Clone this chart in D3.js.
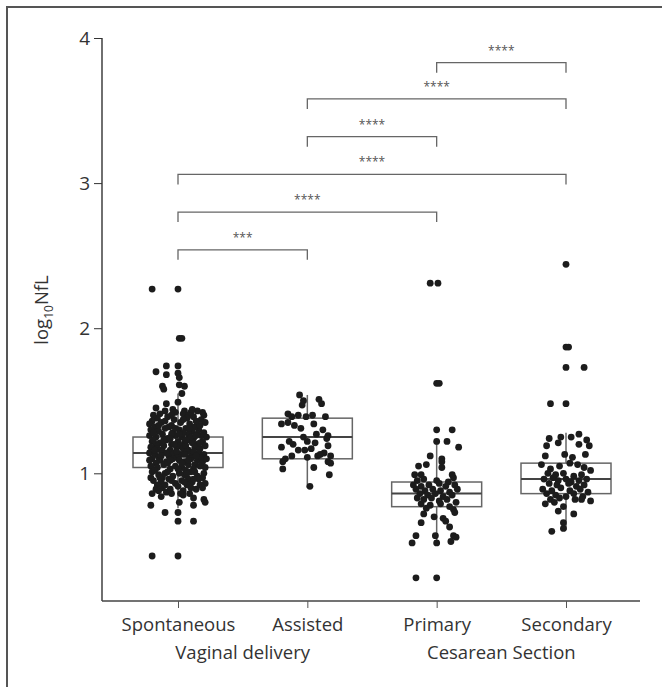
<!DOCTYPE html>
<html>
<head>
<meta charset="utf-8">
<script src="https://cdn.jsdelivr.net/npm/d3@7"></script>
<style>
  body { margin: 0; background: #fff; }
  text { font-family: "Open Sans", "Noto Sans", sans-serif; }
</style>
</head>
<body>
<div id="chart"></div>
<script>
// categories and groups
const categories = ["Spontaneous", "Assisted", "Primary", "Secondary"]
const groups = [
  { name: "Vaginal delivery", members: ["Spontaneous", "Assisted"] },
  { name: "Cesarean Section", members: ["Primary", "Secondary"] }
]
const yTicks = [1, 2, 3, 4]

// box stats: [whiskerLow, q1, median, q3, whiskerHigh]
const boxSpontaneous = [0.76, 1.04, 1.14, 1.25, 1.55]
const boxAssisted = [0.90, 1.10, 1.25, 1.38, 1.54]
const boxPrimary = [0.52, 0.77, 0.86, 0.94, 1.21]
const boxSecondary = [0.61, 0.86, 0.96, 1.07, 1.28]

// points: [jitter (share of category step), log10 NfL]
const ptsSpontaneous = [
  [-0.2,2.27],[0,2.27],[0.01,1.93],[0.03,1.93],[-0.09,1.74],[0,1.74],[-0.17,1.70],[-0.09,1.68],[0,1.69],[0.01,1.66],
  [-0.12,1.60],[-0.11,1.58],[0.01,1.61],[0.05,1.60],[0.03,1.55],[-0.09,1.48],[0,1.49],[-0.17,1.45],[-0.1,1.43],[-0.04,1.44],
  [0.05,1.43],[0.1,1.42],[0.15,1.43],[0.2,1.40],
  [-0.14,1.41],[-0.02,1.42],[0.04,1.41],[0.08,1.40],[0.19,1.42],
  [-0.16,1.38],[-0.08,1.39],[-0.03,1.37],[0.07,1.38],[0.12,1.39],[0.18,1.37],[-0.2,1.36],
  [-0.22,1.34],[-0.13,1.35],[-0.05,1.33],[0.02,1.35],[0.09,1.34],[0.15,1.33],[0.21,1.35],[-0.18,1.32],
  [-0.21,1.30],[-0.15,1.29],[-0.1,1.31],[-0.04,1.28],[0.01,1.30],[0.06,1.31],[0.11,1.29],[0.16,1.30],[0.2,1.28],[-0.07,1.32],[0.13,1.32],
  [-0.22,1.26],[-0.17,1.25],[-0.12,1.27],[-0.08,1.24],[-0.02,1.26],[0.03,1.25],[0.08,1.27],[0.12,1.24],[0.18,1.26],[0.22,1.25],[-0.05,1.27],[0.15,1.27],
  [-0.2,1.22],[-0.14,1.21],[-0.09,1.23],[-0.05,1.20],[0,1.22],[0.05,1.21],[0.09,1.23],[0.14,1.20],[0.19,1.22],[-0.17,1.20],[0.02,1.19],[0.11,1.21],
  [-0.21,1.18],[-0.16,1.17],[-0.11,1.19],[-0.06,1.16],[-0.01,1.18],[0.04,1.17],[0.08,1.16],[0.13,1.18],[0.17,1.17],[0.21,1.19],[-0.13,1.16],[0.06,1.19],
  [-0.22,1.14],[-0.18,1.13],[-0.12,1.15],[-0.07,1.12],[-0.03,1.14],[0.02,1.13],[0.07,1.15],[0.11,1.12],[0.16,1.14],[0.2,1.13],[-0.15,1.11],[0.09,1.11],[0,1.11],
  [-0.2,1.10],[-0.14,1.09],[-0.09,1.08],[-0.04,1.10],[0.01,1.09],[0.05,1.08],[0.1,1.10],[0.15,1.09],[0.19,1.08],[-0.17,1.07],[0.13,1.06],
  [-0.21,1.05],[-0.16,1.04],[-0.11,1.06],[-0.06,1.03],[-0.02,1.05],[0.03,1.04],[0.08,1.06],[0.12,1.03],[0.17,1.05],[0.21,1.04],[-0.08,1.07],[0.06,1.02],
  [-0.2,1.01],[-0.15,0.99],[-0.1,1.00],[-0.04,0.98],[0.01,1.00],[0.05,0.99],[0.1,1.01],[0.15,0.98],[0.2,1.00],[-0.12,0.97],[0.08,0.96],
  [-0.19,0.95],[-0.13,0.94],[-0.07,0.96],[-0.02,0.93],[0.03,0.95],[0.11,0.94],[0.16,0.96],[0.21,0.93],[-0.16,0.92],[0,0.91],[0.07,0.92],
  [-0.17,0.89],[-0.09,0.87],[0.04,0.88],[0.09,0.86],[0.14,0.89],[-0.2,0.86],
  [-0.13,0.84],[-0.05,0.86],[0.04,0.85],[0.12,0.83],[-0.15,0.88],[-0.12,0.90],[0.17,0.92],[0.2,0.82],[0.21,0.80],[0.01,0.80],
  [-0.21,0.78],[0.12,0.78],[-0.1,0.73],[0,0.73],[0,0.67],[0.12,0.67],[-0.2,0.43],[0,0.43],
  // extra points filling the dense core
  [-0.19,1.28],[-0.11,1.23],[-0.03,1.20],[0.04,1.28],[0.1,1.25],[0.17,1.21],[-0.18,1.16],[-0.09,1.14],[-0.01,1.15],[0.05,1.13],
  [0.12,1.15],[0.18,1.11],[-0.22,1.09],[-0.13,1.12],[-0.06,1.09],[0.03,1.07],[0.08,1.09],[0.14,1.12],[0.22,1.10],[-0.18,1.02],
  [-0.08,1.01],[0.0,1.03],[0.07,1.00],[0.13,1.01],[0.19,0.97],[-0.14,0.97],[-0.05,0.95],[0.05,0.94],[0.12,0.96],[-0.21,0.97],
  [-0.1,0.92],[0.1,0.90],[0.19,0.90],[-0.06,0.89],[0.02,0.86],[-0.19,1.23],[-0.06,1.24],[0.06,1.23],[0.14,1.26],[0.01,1.27],
  [-0.15,1.33],[-0.02,1.31],[0.09,1.31],[0.17,1.33],[-0.1,1.36],[0.04,1.37],[0.14,1.36],[-0.05,1.40],[0.11,1.44],[-0.19,1.40]
]
const ptsAssisted = [
  [-0.06,1.54],[-0.03,1.50],[0.09,1.51],[0.11,1.48],[-0.04,1.47],[-0.15,1.41],[-0.12,1.39],[-0.07,1.40],[-0.01,1.39],[0.04,1.40],
  [0.14,1.39],[-0.2,1.34],[-0.15,1.35],[-0.1,1.33],[0.05,1.34],[0.12,1.30],[-0.05,1.31],[0.16,1.26],[0.15,1.24],[-0.03,1.25],
  [0.07,1.27],[-0.14,1.22],[-0.11,1.20],[0,1.22],[0.06,1.21],[0.16,1.19],[-0.2,1.18],[-0.07,1.16],[-0.02,1.16],[0.03,1.17],
  [0.13,1.14],[0.18,1.12],[-0.17,1.10],[0,1.11],[0.08,1.12],[-0.19,1.08],[0.16,1.08],[0.18,1.07],[-0.19,1.03],[0.05,1.04],
  [0.17,0.99],[0.02,0.91],[-0.12,1.12],[0.1,1.13]
]
const ptsPrimary = [
  [-0.05,2.31],[0.01,2.31],[0,1.62],[0.02,1.62],[0,1.30],[0.12,1.30],[0,1.22],[0.08,1.22],[0.17,1.18],[-0.05,1.12],
  [0.04,1.10],[0.04,1.08],[-0.14,1.05],[-0.08,1.06],[0.04,1.04],[-0.17,0.99],[-0.12,0.99],[0.12,0.99],[0.13,0.97],[-0.15,0.95],
  [-0.1,0.96],[0,0.95],[0.09,0.94],[-0.18,0.92],[-0.12,0.91],[-0.06,0.92],[0.02,0.93],[0.07,0.91],[0.14,0.92],[-0.16,0.89],
  [-0.09,0.88],[-0.03,0.89],[0.03,0.88],[0.1,0.87],[0.16,0.89],[-0.13,0.86],[-0.07,0.85],[-0.01,0.86],[0.05,0.84],[0.12,0.85],
  [-0.15,0.83],[-0.1,0.82],[-0.04,0.83],[0.02,0.81],[0.08,0.82],[0.15,0.80],[-0.12,0.79],[-0.05,0.78],[0.03,0.79],[0.1,0.77],
  [-0.08,0.76],[0.13,0.75],[0.14,0.73],[-0.1,0.72],[-0.02,0.70],[0.05,0.69],[-0.12,0.66],[0.07,0.67],[0.1,0.63],[-0.16,0.57],
  [-0.01,0.57],[0.13,0.57],[0.15,0.56],[-0.19,0.52],[0,0.52],[0.11,0.53],[-0.16,0.28],[0,0.28]
]
const ptsSecondary = [
  [0,2.44],[0,1.87],[0.02,1.87],[0,1.73],[0.14,1.73],[-0.12,1.48],[0,1.48],[-0.13,1.24],[-0.04,1.25],[0.04,1.25],
  [0.1,1.27],[0.16,1.23],[0.18,1.19],[-0.15,1.19],[-0.06,1.21],[0.1,1.20],[-0.16,1.12],[-0.01,1.13],[0.05,1.11],[0.15,1.13],
  [-0.19,1.06],[-0.12,1.03],[-0.05,1.05],[0.03,1.07],[0.09,1.06],[0.14,1.04],[0.19,1.02],[-0.14,1.00],[-0.08,0.99],[-0.02,1.00],
  [0.06,0.98],[0.12,0.99],[-0.17,0.96],[-0.1,0.97],[-0.06,0.95],[0,0.96],[0.04,0.94],[0.1,0.95],[0.16,0.96],[-0.13,0.93],
  [-0.07,0.92],[0.02,0.93],[0.08,0.91],[0.14,0.92],[-0.18,0.89],[-0.11,0.88],[-0.04,0.90],[0.03,0.88],[0.11,0.89],[0.17,0.87],
  [-0.15,0.86],[-0.08,0.85],[0,0.84],[0.06,0.86],[0.13,0.84],[-0.12,0.82],[-0.05,0.83],[0.07,0.82],[0.19,0.81],[-0.16,0.79],
  [-0.09,0.80],[-0.02,0.77],[0.06,0.72],[-0.06,0.74],[0.12,0.82],[-0.02,0.66],[-0.11,0.60],[-0.02,0.62]
]

// significance brackets: [from, to, level, label]
const brackets = [
  ["Primary", "Secondary", 3.83, "****"],
  ["Assisted", "Secondary", 3.58, "****"],
  ["Assisted", "Primary", 3.32, "****"],
  ["Spontaneous", "Secondary", 3.06, "****"],
  ["Spontaneous", "Primary", 2.80, "****"],
  ["Spontaneous", "Assisted", 2.54, "***"]
]

const boxes = [boxSpontaneous, boxAssisted, boxPrimary, boxSecondary]
const points = [ptsSpontaneous, ptsAssisted, ptsPrimary, ptsSecondary]

const W = 662, H = 687
const svg = d3.select("#chart").append("svg")
  .attr("width", W)
  .attr("height", H)

// outer frame (cut at right and bottom edges)
svg.append("rect")
  .attr("x", 7).attr("y", 7)
  .attr("width", W + 20).attr("height", H + 20)
  .attr("fill", "none")
  .attr("stroke", "#555")
  .attr("stroke-width", 2)

const x = d3.scalePoint().domain(categories).range([178, 566])
const y = d3.scaleLinear().domain([0.12, 4]).range([601, 38])
const step = x.step()
const boxW = 90

// y axis
const yAxis = svg.append("g")
  .attr("transform", "translate(102,0)")
  .call(d3.axisLeft(y).tickValues(yTicks).tickFormat(d3.format("d")).tickSize(8).tickSizeOuter(0).tickPadding(4))
yAxis.select(".domain").attr("d", "M0," + y(4) + "V" + y.range()[0]).attr("stroke", "#222").attr("stroke-width", 1.3)
yAxis.selectAll(".tick line").attr("stroke", "#333")
yAxis.selectAll(".tick text").attr("font-size", 19).attr("fill", "#333")

// x axis
const xAxis = svg.append("g")
  .attr("transform", "translate(0," + y.range()[0] + ")")
  .call(d3.axisBottom(x).tickSize(7).tickSizeOuter(0).tickPadding(10))
xAxis.select(".domain").attr("d", "M102,0H640").attr("stroke", "#444").attr("stroke-width", 1.3)
xAxis.selectAll(".tick line").attr("stroke", "#555")
xAxis.selectAll(".tick text").attr("font-size", 18.5).attr("fill", "#333")

// group labels
svg.selectAll(".grp").data(groups).enter().append("text")
  .attr("class", "grp")
  .attr("x", d => (x(d.members[0]) + x(d.members[1])) / 2)
  .attr("y", 659)
  .attr("text-anchor", "middle")
  .attr("font-size", 18.5)
  .attr("fill", "#333")
  .text(d => d.name)

// y label with subscript
const yl = svg.append("text")
  .attr("transform", "translate(48,310) rotate(-90)")
  .attr("text-anchor", "middle")
  .attr("font-size", 18.5)
  .attr("fill", "#333")
yl.append("tspan").text("log")
yl.append("tspan").attr("font-size", 12).attr("dy", 5).text("10")
yl.append("tspan").attr("dy", -5).text("NfL")

// box plots
const boxG = svg.append("g")
categories.forEach((c, i) => {
  const b = boxes[i], cx = x(c)
  const g = boxG.append("g").attr("stroke", "#666").attr("fill", "none").attr("stroke-width", 1.5)
  g.append("line").attr("x1", cx).attr("x2", cx).attr("y1", y(b[0])).attr("y2", y(b[1]))
  g.append("line").attr("x1", cx).attr("x2", cx).attr("y1", y(b[3])).attr("y2", y(b[4]))
  g.append("rect").attr("x", cx - boxW / 2).attr("width", boxW)
    .attr("y", y(b[3])).attr("height", y(b[1]) - y(b[3])).attr("fill", "#fff")
  g.append("line").attr("x1", cx - boxW / 2).attr("x2", cx + boxW / 2)
    .attr("y1", y(b[2])).attr("y2", y(b[2])).attr("stroke", "#444").attr("stroke-width", 2)
})

// jittered points
categories.forEach((c, i) => {
  svg.append("g").selectAll("circle").data(points[i]).enter().append("circle")
    .attr("cx", d => x(c) + d[0] * step)
    .attr("cy", d => y(d[1]))
    .attr("r", 3.4)
    .attr("fill", "#1c1c1c")
})

// brackets
const br = svg.append("g")
brackets.forEach(d => {
  const x1 = x(d[0]), x2 = x(d[1]), yy = y(d[2])
  br.append("path")
    .attr("d", "M" + x1 + "," + (yy + 10) + "V" + yy + "H" + x2 + "V" + (yy + 10))
    .attr("fill", "none").attr("stroke", "#666").attr("stroke-width", 1.3)
  br.append("text")
    .attr("x", (x1 + x2) / 2).attr("y", yy - 8)
    .attr("text-anchor", "middle")
    .attr("font-size", 12)
    .attr("fill", "#555")
    .text(d[3])
})
</script>
</body>
</html>
